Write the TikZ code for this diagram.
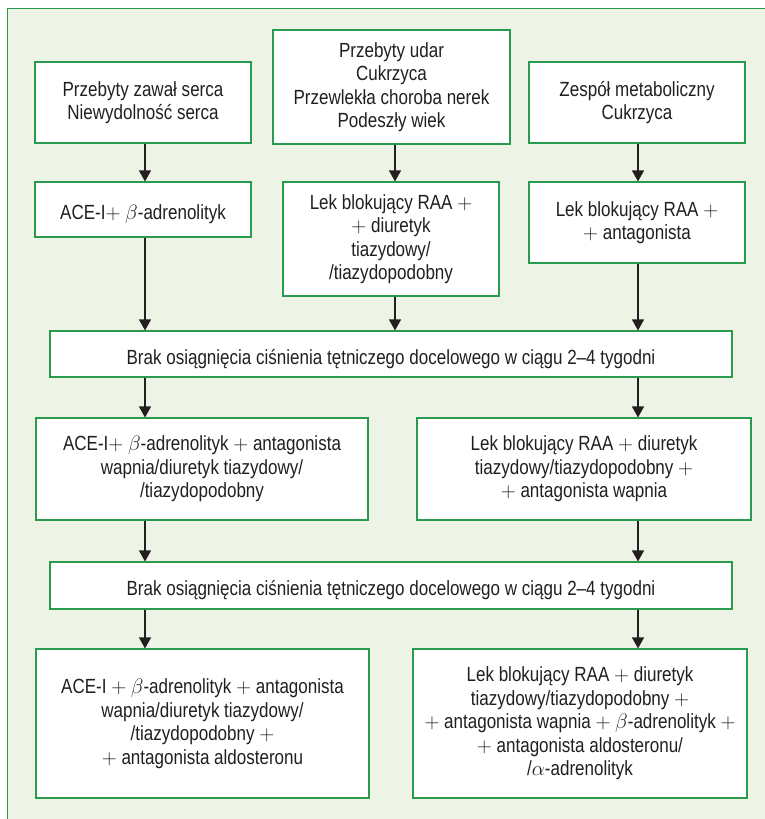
\documentclass[tikz,border=0pt]{standalone}
\usepackage{fontspec}
\setmainfont{Liberation Sans}[FakeStretch=0.83]
\usetikzlibrary{arrows.meta}
\definecolor{bgfill}{HTML}{EEF4E5}
\definecolor{bgreen}{HTML}{2A9A4E}
\definecolor{txt}{HTML}{231F20}
\tikzset{
  box/.style={draw=bgreen, fill=white, line width=1.1pt, align=center, inner sep=0pt, text=txt,
    font=\fontsize{20.5}{23.5}\selectfont, execute at begin node={\rule{0pt}{24.5pt}}},
  wide/.style={box, execute at begin node={}},
  arr/.style={draw=txt, line width=1.2pt, -{Triangle[width=12pt,length=11pt]}}
}
\begin{document}
\begin{tikzpicture}[x=1pt,y=-1pt]
\useasboundingbox (0,0) rectangle (765,819);
\fill[bgfill] (7,8) rectangle (765,819);
\draw[bgreen, line width=1pt] (765,8) -- (7,8) -- (7,819);

\node[box, minimum width=216pt, minimum height=81pt] (A) at (143,102.5) {Przebyty zawał serca\\Niewydolność serca};
\node[wide, minimum width=216pt, minimum height=55pt] (A2) at (143,209.5) {ACE-I$+$ $\beta$-adrenolityk};
\node[box, minimum width=237pt, minimum height=114pt] (B) at (391.5,87) {Przebyty udar\\Cukrzyca\\Przewlekła choroba nerek\\Podeszły wiek};
\node[box, minimum width=216pt, minimum height=114pt] (B2) at (391,239) {Lek blokujący RAA $+$\\$+$ diuretyk\\tiazydowy/\\/tiazydopodobny};
\node[box, minimum width=216pt, minimum height=81pt] (C) at (637,102.5) {Zespół metaboliczny\\Cukrzyca};
\node[box, minimum width=216pt, minimum height=81pt] (C2) at (637,222.5) {Lek blokujący RAA $+$\\$+$ antagonista};
\node[wide, minimum width=682pt, minimum height=46pt] (K1) at (391,354) {Brak osiągnięcia ciśnienia tętniczego docelowego w ciągu 2–4 tygodni};
\node[box, minimum width=332pt, minimum height=102pt] (D) at (202,469) {ACE-I$+$ $\beta$-adrenolityk $+$ antagonista\\wapnia/diuretyk tiazydowy/\\/tiazydopodobny};
\node[box, minimum width=334pt, minimum height=102pt] (E) at (584,469) {Lek blokujący RAA $+$ diuretyk\\tiazydowy/tiazydopodobny $+$\\$+$ antagonista wapnia};
\node[wide, minimum width=682pt, minimum height=47pt] (K2) at (391,585.5) {Brak osiągnięcia ciśnienia tętniczego docelowego w ciągu 2–4 tygodni};
\node[box, minimum width=333pt, minimum height=149pt] (F) at (202.5,723.5) {ACE-I $+$ $\beta$-adrenolityk $+$ antagonista\\wapnia/diuretyk tiazydowy/\\/tiazydopodobny $+$\\$+$ antagonista aldosteronu};
\node[box, minimum width=334pt, minimum height=149pt] (G) at (580,723.5) {Lek blokujący RAA $+$ diuretyk\\tiazydowy/tiazydopodobny $+$\\$+$ antagonista wapnia $+$ $\beta$-adrenolityk $+$\\$+$ antagonista aldosteronu/\\/$\alpha$-adrenolityk};

\coordinate (cL) at (145,0);
\coordinate (cM) at (395,0);
\coordinate (cR) at (638,0);

\draw[arr] (A.south -| cL) -- (A2.north -| cL);
\draw[arr] (B.south -| cM) -- (B2.north -| cM);
\draw[arr] (C.south -| cR) -- (C2.north -| cR);
\draw[arr] (A2.south -| cL) -- (K1.north -| cL);
\draw[arr] (B2.south -| cM) -- (K1.north -| cM);
\draw[arr] (C2.south -| cR) -- (K1.north -| cR);
\draw[arr] (K1.south -| cL) -- (D.north -| cL);
\draw[arr] (K1.south -| cR) -- (E.north -| cR);
\draw[arr] (D.south -| cL) -- (K2.north -| cL);
\draw[arr] (E.south -| cR) -- (K2.north -| cR);
\draw[arr] (K2.south -| cL) -- (F.north -| cL);
\draw[arr] (K2.south -| cR) -- (G.north -| cR);
\end{tikzpicture}
\end{document}
